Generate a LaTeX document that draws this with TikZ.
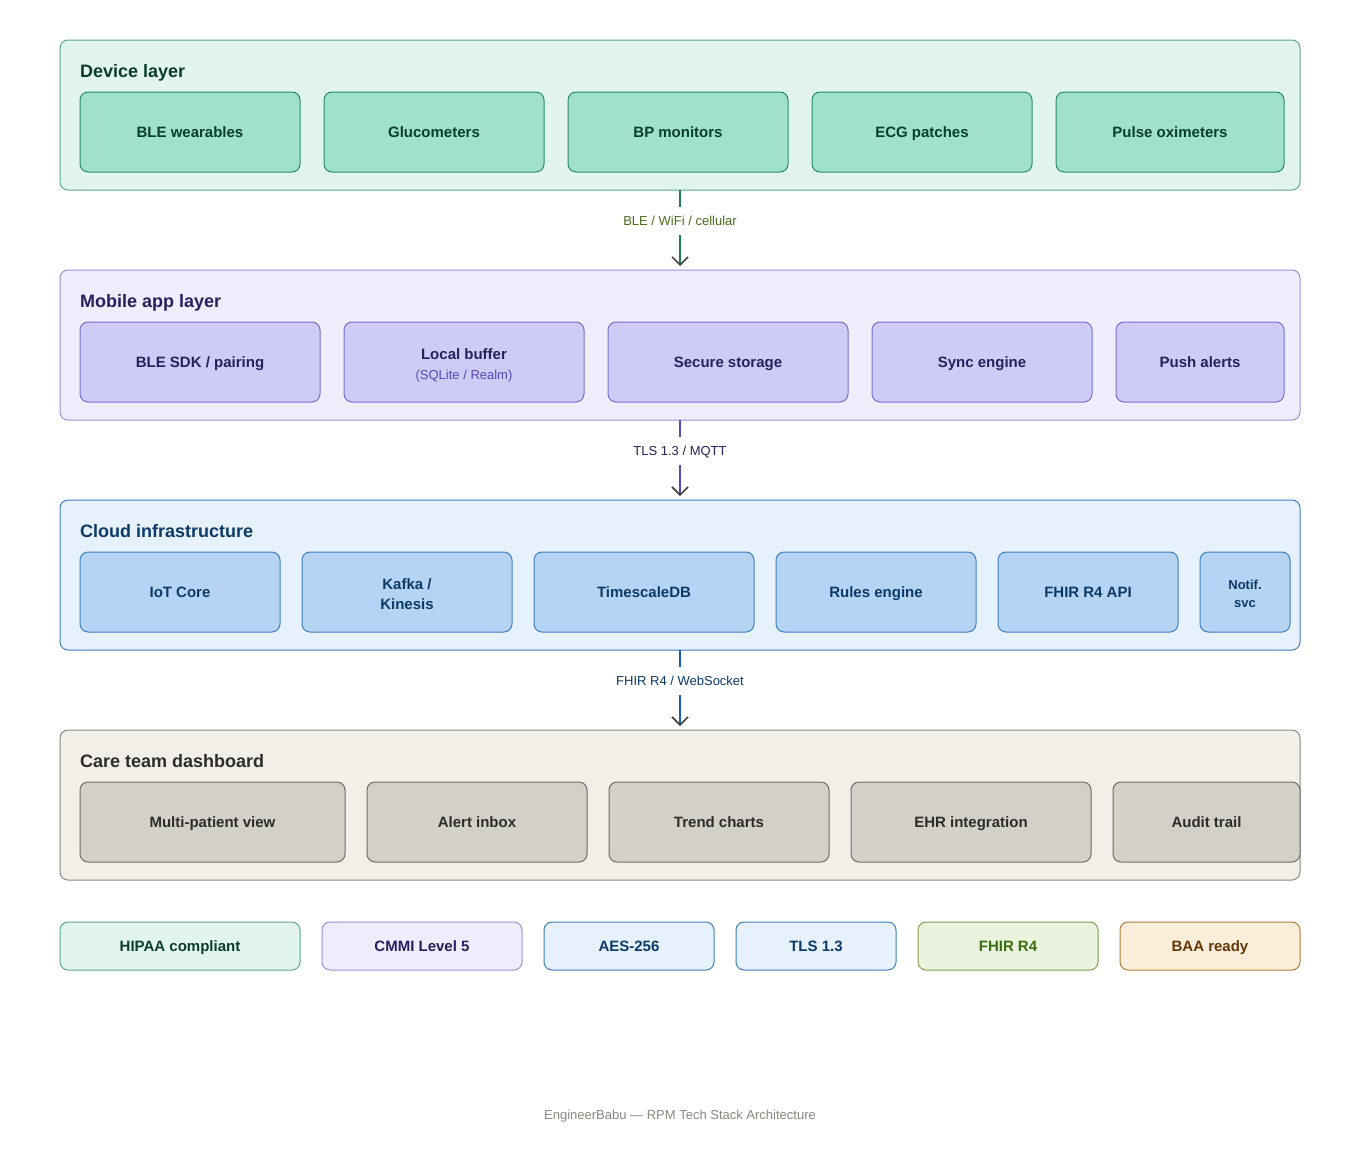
\documentclass[tikz,border=0pt]{standalone}
\usepackage{fontspec}
\setmainfont{Liberation Sans}
\usetikzlibrary{arrows.meta}
\definecolor{gA}{HTML}{E1F5EE}\definecolor{gB}{HTML}{5FA88A}\definecolor{gC}{HTML}{9FE1CB}\definecolor{gD}{HTML}{2E8B6A}\definecolor{gT}{HTML}{0B3D2E}\definecolor{gL}{HTML}{1D7A5A}
\definecolor{pA}{HTML}{EEEDFC}\definecolor{pB}{HTML}{9A90DA}\definecolor{pC}{HTML}{CECBF6}\definecolor{pD}{HTML}{7A6FD0}\definecolor{pT}{HTML}{26215C}\definecolor{pL}{HTML}{534AB7}
\definecolor{bA}{HTML}{E6F1FB}\definecolor{bB}{HTML}{3F7FC0}\definecolor{bC}{HTML}{B5D4F4}\definecolor{bT}{HTML}{0C3A66}\definecolor{bL}{HTML}{185FA5}
\definecolor{cA}{HTML}{F1EFE8}\definecolor{cB}{HTML}{8A887F}\definecolor{cC}{HTML}{D3D1C7}\definecolor{cD}{HTML}{6E6C66}\definecolor{cT}{HTML}{2C2C2A}
\definecolor{oA}{HTML}{EAF3DE}\definecolor{oB}{HTML}{7FA050}\definecolor{oT}{HTML}{3B6D11}
\definecolor{yA}{HTML}{FAEEDA}\definecolor{yB}{HTML}{B07A3A}\definecolor{yT}{HTML}{633806}
\definecolor{lab}{HTML}{4D6B1F}\definecolor{tipc}{HTML}{444441}
\tikzset{
 box/.style={draw, rounded corners=8pt, line width=1pt},
 title/.style={anchor=west, inner sep=0pt, font=\fontsize{18}{21}\selectfont\bfseries, text height=13pt, text depth=2pt},
 lbl/.style={font=\fontsize{15}{18}\selectfont\bfseries, align=center, text height=12pt, text depth=2pt},
 conn/.style={line width=2pt},
 tip/.style={-{Straight Barb[length=8pt,width=16pt,line width=1.6pt,color=tipc]}, line width=2pt},
 elab/.style={font=\fontsize{13}{15}\selectfont, text height=10pt, text depth=2pt},
}
\newcommand{\bx}[8]{% name x1 y1 x2 y2 boxstyle textcolor text
 \draw[box,#6] (#2,#3) rectangle (#4,#5);
 \node[lbl,text=#7] (#1) at ({(#2+#4)/2},{(#3+#5)/2}) {#8};}
\begin{document}
\begin{tikzpicture}[x=1pt,y=-1pt]
\useasboundingbox[fill=white] (0,0) rectangle (1360,1160);
% Device
\draw[box,draw=gB,fill=gA] (60,40) rectangle (1300,190);
\node[title,text=gT] (t1) at (80,72) {Device layer};
\foreach \a/\b/\t [count=\i] in {80/300/BLE wearables,324/544/Glucometers,568/788/BP monitors,812/1032/ECG patches,1056/1284/Pulse oximeters}
 {\bx{d\i}{\a}{92}{\b}{172}{draw=gD,fill=gC}{gT}{\t}}
% Mobile
\draw[box,draw=pB,fill=pA] (60,270) rectangle (1300,420);
\node[title,text=pT] (t2) at (80,302) {Mobile app layer};
\bx{m1}{80}{322}{320}{402}{draw=pD,fill=pC}{pT}{BLE SDK / pairing}
\foreach \a/\b/\t [count=\i from 2] in {344/584/{},608/848/Secure storage,872/1092/Sync engine,1116/1284/Push alerts}
 {\bx{m\i}{\a}{322}{\b}{402}{draw=pD,fill=pC}{pT}{\t}}
\node[lbl,text=pT] (m2a) at (464,354) {Local buffer};
\node[elab,text=pL] (m2b) at (464,375) {(SQLite / Realm)};
% Cloud
\draw[box,draw=bB,fill=bA] (60,500) rectangle (1300,650);
\node[title,text=bT] (t3) at (80,532) {Cloud infrastructure};
\foreach \a/\b/\t [count=\i] in {80/280/IoT Core,534/754/TimescaleDB,776/976/Rules engine,998/1178/FHIR R4 API}
 {\bx{c\i}{\a}{552}{\b}{632}{draw=bB,fill=bC}{bT}{\t}}
\draw[box,draw=bB,fill=bC] (302,552) rectangle (512,632);
\node[lbl,text=bT] (c5a) at (407,584) {Kafka /};
\node[lbl,text=bT] (c5b) at (407,604) {Kinesis};
\draw[box,draw=bB,fill=bC] (1200,552) rectangle (1290,632);
\node[font=\fontsize{13}{15}\selectfont\bfseries,text=bT,text height=10pt,text depth=2pt] (c6a) at (1245,585) {Notif.};
\node[font=\fontsize{13}{15}\selectfont\bfseries,text=bT,text height=10pt,text depth=2pt] (c6b) at (1245,603) {svc};
% Care
\draw[box,draw=cB,fill=cA] (60,730) rectangle (1300,880);
\node[title,text=cT] (t4) at (80,762) {Care team dashboard};
\foreach \a/\b/\t [count=\i] in {80/345/Multi-patient view,367/587/Alert inbox,609/829/Trend charts,851/1091/EHR integration,1113/1300/Audit trail}
 {\bx{k\i}{\a}{782}{\b}{862}{draw=cD,fill=cC}{cT}{\t}}
% Arrows
\coordinate (a1) at (680,190); \coordinate (a1b) at (680,207); \coordinate (a1c) at (680,235); \coordinate (a1d) at (680,266);
\draw[conn,gL] (a1)--(a1b); \draw[tip,gL] (a1c)--(a1d);
\node[elab,text=lab] (l1) at (680,221) {BLE / WiFi / cellular};
\coordinate (a2) at (680,420); \coordinate (a2b) at (680,437); \coordinate (a2c) at (680,465); \coordinate (a2d) at (680,496);
\draw[conn,pL] (a2)--(a2b); \draw[tip,pL] (a2c)--(a2d);
\node[elab,text=pT] (l2) at (680,451) {TLS 1.3 / MQTT};
\coordinate (a3) at (680,650); \coordinate (a3b) at (680,667); \coordinate (a3c) at (680,695); \coordinate (a3d) at (680,726);
\draw[conn,bL] (a3)--(a3b); \draw[tip,bL] (a3c)--(a3d);
\node[elab,text=bT] (l3) at (680,681) {FHIR R4 / WebSocket};
% Badges
\foreach \a/\b/\c/\t [count=\i] in {60/300/g/HIPAA compliant,322/522/p/CMMI Level 5,544/714/b/AES-256,736/896/b/TLS 1.3,918/1098/o/FHIR R4,1120/1300/y/BAA ready}
 {\bx{g\i}{\a}{922}{\b}{970}{draw=\c B,fill=\c A}{\c T}{\t}}
\node[elab,text=cB] (ft) at (680,1115) {EngineerBabu — RPM Tech Stack Architecture};
\end{tikzpicture}
\end{document}
